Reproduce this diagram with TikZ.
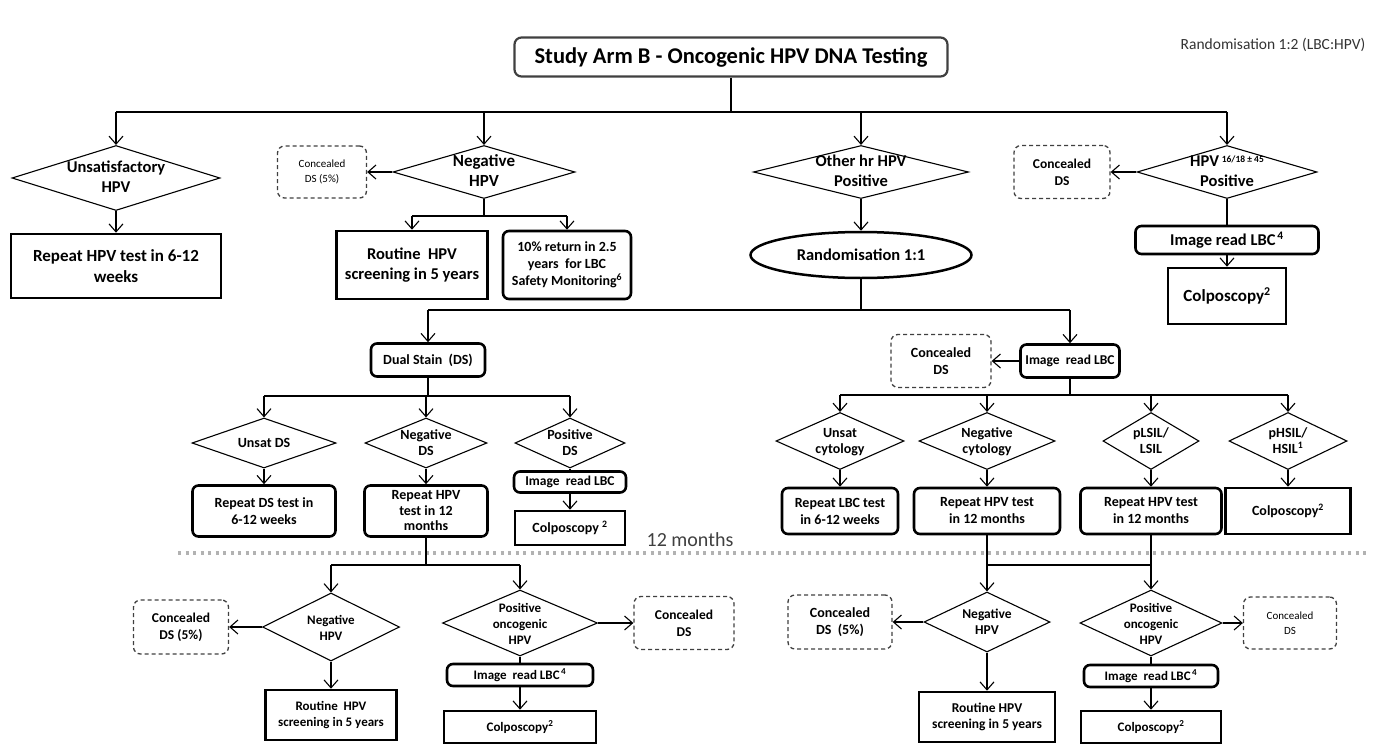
\documentclass[tikz,border=0pt]{standalone}
\usepackage{fontspec}
\setmainfont{Carlito}
\usetikzlibrary{shapes.geometric,arrows.meta}
\pgfdeclarelayer{bg}
\pgfsetlayers{bg,main}
\newcommand\fs[2]{\fontsize{#1}{#2}\selectfont}
\newcommand\dtxt[1]{\makebox[0pt]{\smash{\raisebox{-5pt}{\begin{tabular}{@{}c@{}}#1\end{tabular}}}}}
\tikzset{
  sz/.style 2 args={minimum width=#1pt, minimum height=#2pt},
  decision/.style={diamond, draw, line width=1.1pt, inner sep=0pt, font=\fs{14}{16}\bfseries},
  block/.style={rectangle, draw, line width=2.6pt, inner sep=1pt, align=center, font=\fs{14}{17}\bfseries},
  rblock/.style={block, rounded corners=6pt},
  titlebox/.style={rectangle, draw=black!75, line width=2.2pt, rounded corners=7pt, font=\fs{22.5}{26}\bfseries},
  oval/.style={ellipse, draw, line width=2.5pt, inner sep=0pt, font=\fs{16.5}{20}\bfseries},
  hidden/.style={rectangle, draw=black!75, line width=1.3pt, dash pattern=on 4pt off 3pt, rounded corners=7pt, align=center, inner sep=1pt, font=\fs{13.5}{17}\bfseries},
  arr/.style={-{Straight Barb[length=8pt,width=14pt]}},
  dotline/.style={draw=gray!60, line width=3.2pt, dash pattern=on 3.2pt off 4.3pt},
}

\begin{document}
\begin{tikzpicture}[x=1pt, y=-1pt, every edge/.append style={line width=1.1pt}]
    \useasboundingbox (0,0) rectangle (1376,744);

    \node (rnd) [font=\fs{15.5}{18}, text=black!80] at (1273,45) {Randomisation 1:2 (LBC:HPV)};
    \node (arm) [titlebox, sz={433}{39}] at (731,57) {Study Arm B - Oncogenic HPV DNA Testing};

    % first level
    \node (unsat) [decision, sz={208}{65}, font=\fs{16.5}{20}\bfseries] at (116,178) {\dtxt{Unsatisfactory\\HPV}};
    \node (rep1) [block, sz={210}{64}, font=\fs{17}{21}\bfseries] at (116,266) {Repeat HPV test in 6-12\\weeks};
    \node (neg1) [decision, sz={182}{53}, font=\fs{17}{20}\bfseries] at (484,172) {\dtxt{Negative\\HPV}};
    \node (conc1) [hidden, sz={89}{52}, font=\fs{11}{15}] at (322,172) {Concealed\\DS (5\%)};
    \node (rout1) [block, sz={151}{68}, font=\fs{16.5}{20}\bfseries] at (412,265) {Routine~ HPV\\screening in 5 years};
    \node (ret1) [rblock, sz={128}{68}] at (567,265) {10\% return in 2.5\\years~ for LBC\\Safety Monitoring\textsuperscript{6}};
    \node (other) [decision, sz={215}{53}, font=\fs{16.5}{20}\bfseries] at (861,172) {\dtxt{Other hr HPV\\Positive}};
    \node (rand) [oval, sz={221}{46}] at (861,255) {Randomisation 1:1};
    \node (hpv16) [decision, sz={180}{53}, font=\fs{16.5}{20}\bfseries] at (1227,172) {\dtxt{HPV\,\raisebox{0.55ex}{\fs{9.5}{10}16/18 ± 45}\\Positive}};
    \node (conc2) [hidden, sz={96}{53}] at (1062,172) {Concealed\\DS};
    \node (img1) [rblock, sz={183}{28}, font=\fs{16.5}{20}\bfseries] at (1227,240) {Image read LBC\textsuperscript{\,4}};
    \node (colp1) [block, sz={118}{56}, font=\fs{17}{20}\bfseries] at (1227,296) {Colposcopy\textsuperscript{2}};

    % dual stain arm
    \node (ds) [rblock, sz={114}{33}] at (428,360) {Dual Stain~ (DS)};
    \node (unsatds) [decision, sz={144}{50}] at (264,443) {\dtxt{Unsat DS}};
    \node (negds) [decision, sz={122}{50}] at (426,443) {\dtxt{Negative\\DS}};
    \node (posds) [decision, sz={110}{50}] at (570,443) {\dtxt{Positive\\DS}};
    \node (repds) [rblock, sz={143}{51}] at (264,511) {Repeat DS test in\\6-12 weeks};
    \node (rephpv1) [rblock, sz={123}{51}, font=\fs{14}{15.5}\bfseries] at (426,511) {Repeat HPV\\test in 12\\months};
    \node (img3) [rblock, sz={112}{21}, font=\fs{13.5}{16}\bfseries] at (570,482) {Image~ read LBC};
    \node (colp2) [block, sz={110}{34}] at (570,528) {Colposcopy \textsuperscript{2}};

    % image read arm
    \node (img2) [rblock, sz={99}{33}, font=\fs{13.5}{16}\bfseries] at (1070,361) {Image~ read LBC};
    \node (conc3) [hidden, sz={100}{53}, font=\fs{14}{17}\bfseries] at (941,361) {Concealed\\DS};
    \node (unsatcy) [decision, sz={128}{57}] at (840,441) {\dtxt{Unsat\\cytology}};
    \node (negcy) [decision, sz={136}{57}] at (987,441) {\dtxt{Negative\\cytology}};
    \node (plsil) [decision, sz={96}{57}] at (1151,441) {\dtxt{pLSIL/\\LSIL}};
    \node (phsil) [decision, sz={118}{57}] at (1288,441) {\dtxt{pHSIL/\\HSIL\textsuperscript{1}}};
    \node (replbc) [rblock, sz={116}{46}] at (840,511) {Repeat LBC test\\in 6-12 weeks};
    \node (rephpv2) [rblock, sz={146}{46}] at (987,511) {Repeat HPV test\\in 12 months};
    \node (rephpv3) [rblock, sz={141}{46}] at (1151,511) {Repeat HPV test\\in 12 months};
    \node (colp3) [block, sz={125}{46}] at (1288,511) {Colposcopy\textsuperscript{2}};

    \node (twelve) [font=\fs{20}{22}, text=black!75] at (690,540) {12 months};

    % after 12 months, left
    \node (neg2) [decision, sz={137}{68}, font=\fs{13}{16}\bfseries] at (331,627) {\dtxt{Negative\\HPV}};
    \node (conc4) [hidden, sz={95}{54}] at (181,627) {Concealed\\DS (5\%)};
    \node (rout2) [block, sz={131}{50}, font=\fs{13}{16}\bfseries] at (331,715) {Routine~ HPV\\screening in 5 years};
    \node (pos2) [decision, sz={155}{66}, font=\fs{13}{16}\bfseries] at (520,623) {\dtxt{Positive\\oncogenic\\HPV}};
    \node (conc5) [hidden, sz={100}{53}] at (684,623) {Concealed\\DS};
    \node (img4) [rblock, sz={146}{22}, font=\fs{13}{16}\bfseries] at (520,675) {Image~ read LBC\textsuperscript{\,4}};
    \node (colp4) [block, sz={152}{32}, font=\fs{13}{16}\bfseries] at (520,727) {Colposcopy\textsuperscript{2}};

    % after 12 months, right
    \node (neg3) [decision, sz={126}{60}, font=\fs{13.5}{16}\bfseries] at (987,622) {\dtxt{Negative\\HPV}};
    \node (conc6) [hidden, sz={104}{54}, font=\fs{14}{17}\bfseries] at (840,622) {Concealed\\DS~ (5\%)};
    \node (rout3) [block, sz={136}{50}, font=\fs{13.5}{16}\bfseries] at (987,717) {Routine HPV\\screening in 5 years};
    \node (pos3) [decision, sz={142}{66}, font=\fs{13}{16}\bfseries] at (1151,623) {\dtxt{Positive\\oncogenic\\HPV}};
    \node (conc7) [hidden, sz={93}{52}, font=\fs{11}{15}] at (1290,623) {Concealed\\DS};
    \node (img5) [rblock, sz={134}{22}, font=\fs{13}{16}\bfseries] at (1151,676) {Image~ read LBC\textsuperscript{\,4}};
    \node (colp5) [block, sz={140}{32}, font=\fs{13}{16}\bfseries] at (1151,727) {Colposcopy\textsuperscript{2}};

    \coordinate (b0) at (731,112);
    \coordinate (b1) at (484,216);
    \coordinate (b2) at (861,310);
    \coordinate (b3) at (428,396);
    \coordinate (b4) at (1070,395);
    \coordinate (b5) at (426,565);
    \coordinate (b6) at (987,565);
    \coordinate (dl) at (178,553);
    \coordinate (dr) at (1370,553);

    \begin{pgfonlayer}{bg}
        \draw[dotline] (dl) -- (dr);

        \draw (arm) edge[line width=2pt] (b0);
        \draw (b0 -| unsat) edge (b0 -| hpv16);
        \draw (b0 -| unsat) edge[arr] (unsat);
        \draw (b0 -| neg1) edge[arr] (neg1);
        \draw (b0 -| other) edge[arr] (other);
        \draw (b0 -| hpv16) edge[arr] (hpv16);
        \draw (unsat) edge[arr] (rep1);

        \draw (neg1) edge[arr] (conc1);
        \draw (neg1) edge (b1);
        \draw (b1 -| rout1) edge (b1 -| ret1);
        \draw (b1 -| rout1) edge[arr] (rout1);
        \draw (b1 -| ret1) edge[arr] (ret1);

        \draw (other) edge[arr] (rand);
        \draw (hpv16) edge[arr] (conc2);
        \draw (hpv16) edge (img1);
        \draw (img1) edge[arr] (colp1);

        \draw (rand) edge (b2);
        \draw (b2 -| ds) edge (b2 -| img2);
        \draw (b2 -| ds) edge[arr] (ds);
        \draw (b2 -| img2) edge[arr] (img2);

        \draw (ds) edge (b3);
        \draw (b3 -| unsatds) edge (b3 -| posds);
        \draw (b3 -| unsatds) edge[arr] (unsatds);
        \draw (b3 -| negds) edge[arr] (negds);
        \draw (b3 -| posds) edge[arr] (posds);
        \draw (unsatds) edge[arr] (repds);
        \draw (negds) edge[arr] (rephpv1);
        \draw (posds) edge (img3);
        \draw (img3) edge[arr] (colp2);

        \draw (img2) edge[arr] (conc3);
        \draw (img2) edge (b4);
        \draw (b4 -| unsatcy) edge (b4 -| phsil);
        \draw (b4 -| unsatcy) edge[arr] (unsatcy);
        \draw (b4 -| negcy) edge[arr] (negcy);
        \draw (b4 -| plsil) edge[arr] (plsil);
        \draw (b4 -| phsil) edge[arr] (phsil);
        \draw (unsatcy) edge[arr] (replbc);
        \draw (negcy) edge[arr] (rephpv2);
        \draw (plsil) edge[arr] (rephpv3);
        \draw (phsil) edge[arr] (colp3);

        \draw (rephpv1) edge (b5);
        \draw (b5 -| neg2) edge (b5 -| pos2);
        \draw (b5 -| neg2) edge[arr] (neg2);
        \draw (b5 -| pos2) edge[arr] (pos2);
        \draw (neg2) edge[arr] (conc4);
        \draw (neg2) edge[arr] (rout2);
        \draw (pos2) edge[arr] (conc5);
        \draw (pos2) edge (img4);
        \draw (img4) edge[arr] (colp4);

        \draw (rephpv2) edge[arr] (neg3);
        \draw (rephpv3) edge[arr] (pos3);
        \draw (b6 -| neg3) edge (b6 -| pos3);
        \draw (neg3) edge[arr] (conc6);
        \draw (neg3) edge[arr] (rout3);
        \draw (pos3) edge[arr] (conc7);
        \draw (pos3) edge (img5);
        \draw (img5) edge[arr] (colp5);
    \end{pgfonlayer}
\end{tikzpicture}
\end{document}
